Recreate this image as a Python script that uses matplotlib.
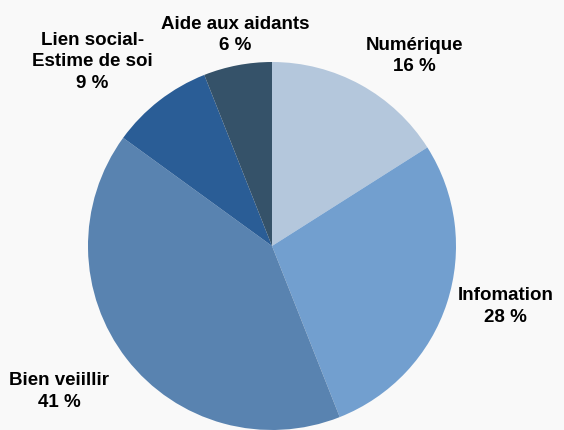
import numpy as np
import matplotlib
matplotlib.use('Agg')
from matplotlib import pyplot as plt

labels = ['Numérique', 'Infomation', 'Bien veiillir', 'Lien social-\nEstime de soi', 'Aide aux aidants']
values = [16, 28, 41, 9, 6]
colors = ['#b4c7dc', '#729fcf', '#5983b0', '#2a5d96', '#355269']


def main():
    fig = plt.figure(figsize=(5.64, 4.30), dpi=100, facecolor='#f9f9f9')
    # pie centre at (272, 246) px, radius 184 px
    ax = fig.add_axes([(272 - 184) / 564, (430 - 246 - 184) / 430, 368 / 564, 368 / 430])
    ax.set_facecolor('#f9f9f9')

    wedges, _ = ax.pie(values, colors=colors, startangle=90, counterclock=False,
                       radius=1.0, wedgeprops={'linewidth': 0})
    ax.set_xlim(-1, 1)
    ax.set_ylim(-1, 1)
    ax.set_aspect('equal')
    ax.axis('off')

    for w, lab, v in zip(wedges, labels, values):
        ang = np.deg2rad((w.theta1 + w.theta2) / 2)
        c, s = np.cos(ang), np.sin(ang)
        ha = 'left' if c > 0.2 else ('right' if c < -0.2 else 'center')
        va = 'center' if abs(s) < 0.5 else ('bottom' if s > 0 else 'top')
        d = 1.06 if s > -0.5 else 1.12
        ax.text(d * c, d * s, '%s\n%d %%' % (lab, v), ha=ha, va=va,
                multialignment='center', fontsize=13.5, fontweight='bold',
                family='Liberation Sans', linespacing=1.35, clip_on=False)

    fig.savefig('out.png', dpi=100, facecolor=fig.get_facecolor())


if __name__ == '__main__':
    main()
